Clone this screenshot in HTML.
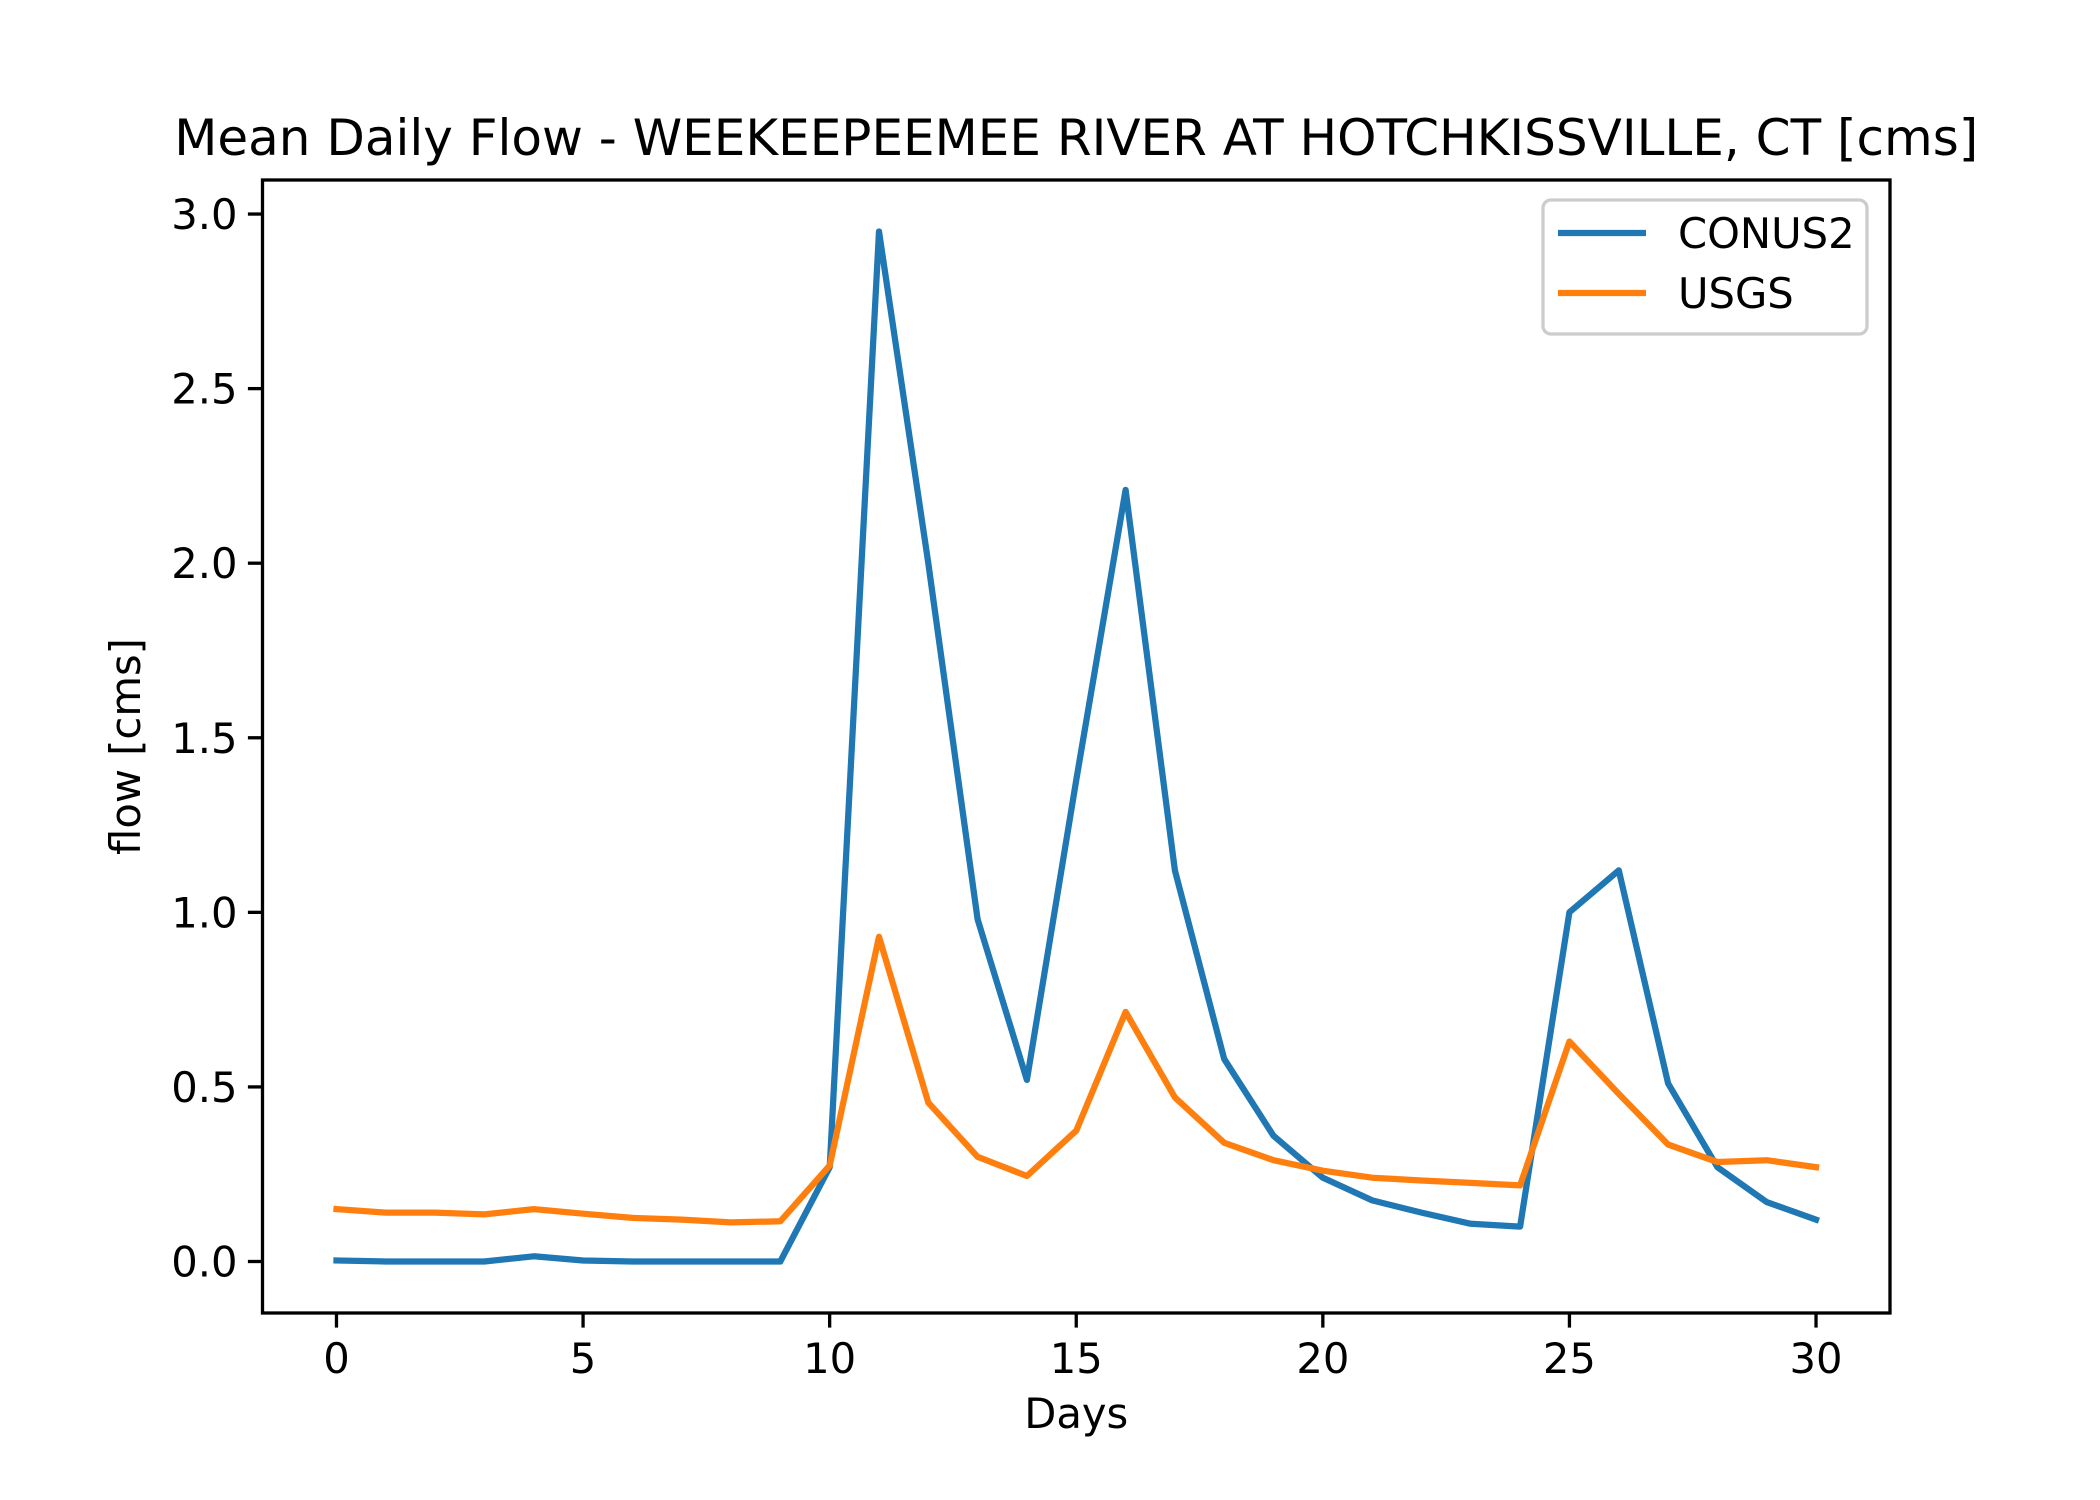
<!DOCTYPE html>
<html><head><meta charset="utf-8"><style>body{margin:0;background:#fff}svg{display:block}text{font-family:"DejaVu Sans","Liberation Sans",sans-serif;fill:#000}</style></head>
<body>
<svg id="chart" width="2100" height="1500" viewBox="0 0 2100 1500" xmlns="http://www.w3.org/2000/svg">
<rect width="2100" height="1500" fill="#fff"/>
<g id="plot"></g>
</svg>
<script>
const days = [0,1,2,3,4,5,6,7,8,9,10,11,12,13,14,15,16,17,18,19,20,21,22,23,24,25,26,27,28,29,30];
const conus2 = [0.003,0,0,0,0.015,0.003,0,0,0,0,0.27,2.95,2.0,0.98,0.52,1.38,2.21,1.12,0.58,0.36,0.24,0.175,0.14,0.108,0.1,1.0,1.12,0.51,0.27,0.17,0.12];
const usgs = [0.15,0.14,0.14,0.135,0.15,0.137,0.125,0.12,0.112,0.115,0.275,0.93,0.455,0.3,0.245,0.375,0.715,0.47,0.34,0.29,0.26,0.24,0.232,0.225,0.218,0.63,0.48,0.335,0.285,0.29,0.27];
const xTicks = [0,5,10,15,20,25,30];
const yTicks = [0,0.5,1,1.5,2,2.5,3];
const yTickLabels = ["0.0","0.5","1.0","1.5","2.0","2.5","3.0"];

const L=262.5,R=1890,T=180,B=1313;
const xmin=-1.5,xmax=31.5;
const ymax0=Math.max(...conus2,...usgs), ymin0=Math.min(...conus2,...usgs);
const pad=(ymax0-ymin0)*0.05, ymin=ymin0-pad, ymax=ymax0+pad;
const sx=v=>L+(v-xmin)/(xmax-xmin)*(R-L);
const sy=v=>B-(v-ymin)/(ymax-ymin)*(B-T);
const NS="http://www.w3.org/2000/svg";
const g=document.getElementById('plot');
function mk(tag,attrs,txt){const e=document.createElementNS(NS,tag);for(const k in attrs)e.setAttribute(k,attrs[k]);if(txt!==undefined)e.textContent=txt;g.appendChild(e);return e;}

function line(data,color,name){
  const pts=days.map((d,i)=>sx(d).toFixed(1)+','+sy(data[i]).toFixed(1)).join(' ');
  const e=mk('polyline',{points:pts,fill:'none',stroke:color,'stroke-width':6.25,'stroke-linejoin':'round','stroke-linecap':'square'});
  
  
}
line(conus2,'#1f77b4','series-conus2');
line(usgs,'#ff7f0e','series-usgs');

const frame=mk('rect',{x:L,y:T,width:R-L,height:B-T,fill:'none',stroke:'#000','stroke-width':3.3});



xTicks.forEach(t=>{
  const x=sx(t);
  const tk=mk('line',{x1:x,x2:x,y1:B,y2:B+14.6,stroke:'#000','stroke-width':3.3});
  
  
  const lb=mk('text',{x:x,y:B+60,'font-size':41.7,'text-anchor':'middle'},String(t));
  
  
});
yTicks.forEach((t,i)=>{
  const y=sy(t);
  const tk=mk('line',{x1:L-14.6,x2:L,y1:y,y2:y,stroke:'#000','stroke-width':3.3});
  
  
  const lb=mk('text',{x:L-25,y:y+15,'font-size':41.7,'text-anchor':'end'},yTickLabels[i]);
  
  
});

const title=mk('text',{x:(L+R)/2,y:155,'font-size':50,'text-anchor':'middle'},'Mean Daily Flow - WEEKEEPEEMEE RIVER AT HOTCHKISSVILLE, CT [cms]');


const xl=mk('text',{x:(L+R)/2,y:1428,'font-size':41.7,'text-anchor':'middle'},'Days');


const yl=mk('text',{x:0,y:0,'font-size':41.7,'text-anchor':'middle',transform:'translate(140,'+((T+B)/2)+') rotate(-90)'},'flow [cms]');



const lg=mk('rect',{x:1543,y:200,width:324,height:134,rx:8,fill:'#fff','fill-opacity':0.8,stroke:'#ccc','stroke-width':3.3});


[['CONUS2','#1f77b4',233],['USGS','#ff7f0e',293]].forEach(([n,c,y])=>{
  const s=mk('line',{x1:1558,x2:1646,y1:y,y2:y,stroke:c,'stroke-width':6.25});
  
  
  const t=mk('text',{x:1678,y:y+15,'font-size':41.7},n);
  
  
});
</script>
</body></html>
